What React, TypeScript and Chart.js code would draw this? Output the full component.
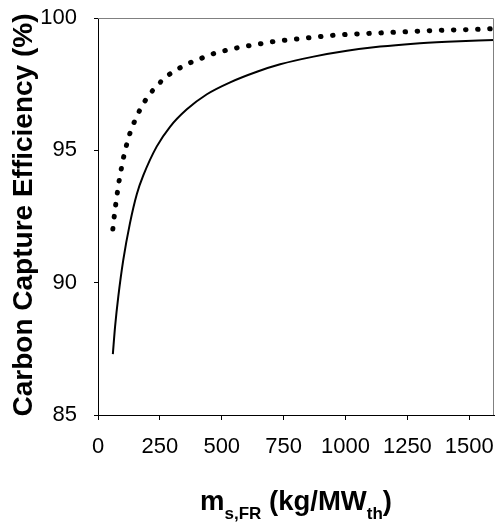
import React, { useEffect, useRef } from "react";
import { Chart, registerables } from "chart.js";

Chart.register(...registerables);

// Solid curve
const solidX = [60, 69, 82, 102, 129, 157, 183, 237, 291, 359, 440, 534, 642, 736, 871, 1006, 1140, 1275, 1410, 1600];
const solidY = [87.3, 88.34, 89.47, 90.85, 92.24, 93.35, 94.05, 95.14, 95.89, 96.55, 97.12, 97.57, 97.97, 98.25, 98.54, 98.76, 98.92, 99.03, 99.1, 99.17];

// Dotted curve
const dottedX = [60, 65.3, 71.4, 77.9, 85.2, 93.7, 103.4, 114.7, 128.5, 147, 170, 198, 237, 284, 332, 380, 429, 476, 523, 571, 620, 667, 716, 763, 860, 956, 1051, 1149, 1244, 1340, 1435, 1531, 1600];
const dottedY = [92.03, 92.48, 92.94, 93.38, 93.84, 94.28, 94.74, 95.18, 95.63, 96.08, 96.54, 96.98, 97.43, 97.84, 98.12, 98.34, 98.52, 98.68, 98.79, 98.89, 98.97, 99.04, 99.12, 99.17, 99.26, 99.35, 99.4, 99.44, 99.48, 99.52, 99.55, 99.57, 99.6];

const xTickStep = 250;
const yTickStep = 5;
const yTitle = "Carbon Capture Efficiency (%)";
const xTitleParts: { text: string; sub: boolean }[] = [
  { text: "m", sub: false },
  { text: "s,FR", sub: true },
  { text: " (kg/MW", sub: false },
  { text: "th", sub: true },
  { text: ")", sub: false },
];

const FONT = "'Liberation Sans', Arial, sans-serif";

const framePlugin = {
  id: "frameAndTitle",
  afterDraw(chart: any) {
    const { ctx, chartArea } = chart;
    ctx.save();
    // gray top and right border
    ctx.strokeStyle = "#808080";
    ctx.lineWidth = 1;
    ctx.beginPath();
    ctx.moveTo(chartArea.left, chartArea.top + 0.5);
    ctx.lineTo(chartArea.right - 0.5, chartArea.top + 0.5);
    ctx.lineTo(chartArea.right - 0.5, chartArea.bottom);
    ctx.stroke();

    // x axis title with subscripts
    const mainSize = 27.5;
    const subSize = 17;
    const widths = xTitleParts.map((p) => {
      ctx.font = `bold ${p.sub ? subSize : mainSize}px ${FONT}`;
      return ctx.measureText(p.text).width;
    });
    const total = widths.reduce((a, b) => a + b, 0);
    const cx = (chartArea.left + chartArea.right) / 2;
    let x = cx - total / 2;
    const baseline = 510;
    ctx.fillStyle = "#000";
    ctx.textAlign = "left";
    ctx.textBaseline = "alphabetic";
    xTitleParts.forEach((p, i) => {
      ctx.font = `bold ${p.sub ? subSize : mainSize}px ${FONT}`;
      ctx.fillText(p.text, x, p.sub ? baseline + 9 : baseline);
      x += widths[i];
    });

    // y axis title (rotated)
    ctx.font = `bold 28px ${FONT}`;
    ctx.translate(32, 215);
    ctx.rotate(-Math.PI / 2);
    ctx.textAlign = "center";
    ctx.textBaseline = "alphabetic";
    ctx.fillText(yTitle, 0, 0);
    ctx.restore();
  },
};

export default function App() {
  const ref = useRef<HTMLCanvasElement>(null);

  useEffect(() => {
    if (!ref.current) return;
    const chart = new Chart(ref.current, {
      type: "line",
      data: {
        datasets: [
          {
            label: "dotted",
            data: dottedX.map((x, i) => ({ x, y: dottedY[i] })),
            borderColor: "#000",
            borderWidth: 5,
            borderDash: [0.5, 11.6],
            borderCapStyle: "round",
            pointRadius: 0,
            fill: false,
            cubicInterpolationMode: "monotone",
          },
          {
            label: "solid",
            data: solidX.map((x, i) => ({ x, y: solidY[i] })),
            borderColor: "#000",
            borderWidth: 2,
            pointRadius: 0,
            fill: false,
            cubicInterpolationMode: "monotone",
          },
        ],
      },
      options: {
        animation: false,
        responsive: false,
        devicePixelRatio: 1,
        layout: { padding: { top: 18, right: 4, left: 0, bottom: 0 } },
        plugins: {
          legend: { display: false },
          tooltip: { enabled: false },
        },
        scales: {
          x: {
            type: "linear",
            min: 0,
            max: 1600,
            ticks: {
              stepSize: xTickStep,
              includeBounds: false,
              color: "#000",
              font: { family: FONT, size: 22 },
              padding: 14,
              maxRotation: 0,
              autoSkip: false,
              callback: (v: any) => String(v),
            },
            grid: { drawOnChartArea: false, drawTicks: true, tickLength: 5, color: "#000" },
            border: { color: "#000", width: 1 },
            afterFit(s: any) {
              s.height = 109;
              s.paddingLeft = 0;
              s.paddingRight = 0;
            },
          },
          y: {
            type: "linear",
            min: 85,
            max: 100,
            ticks: {
              stepSize: yTickStep,
              color: "#000",
              font: { family: FONT, size: 22 },
              padding: 17,
              callback: (v: any) => String(v),
            },
            grid: { drawOnChartArea: false, drawTicks: true, tickLength: 4, color: "#000" },
            border: { color: "#000", width: 1 },
            afterFit(s: any) {
              s.width = 98;
              s.paddingTop = 0;
              s.paddingBottom = 0;
            },
          },
        },
      },
      plugins: [framePlugin],
    } as any);
    return () => chart.destroy();
  }, []);

  return (
    <div style={{ position: "fixed", left: 0, top: 0, width: 498, height: 524, background: "#fff" }}>
      <canvas ref={ref} width={498} height={524} style={{ display: "block" }} />
    </div>
  );
}
